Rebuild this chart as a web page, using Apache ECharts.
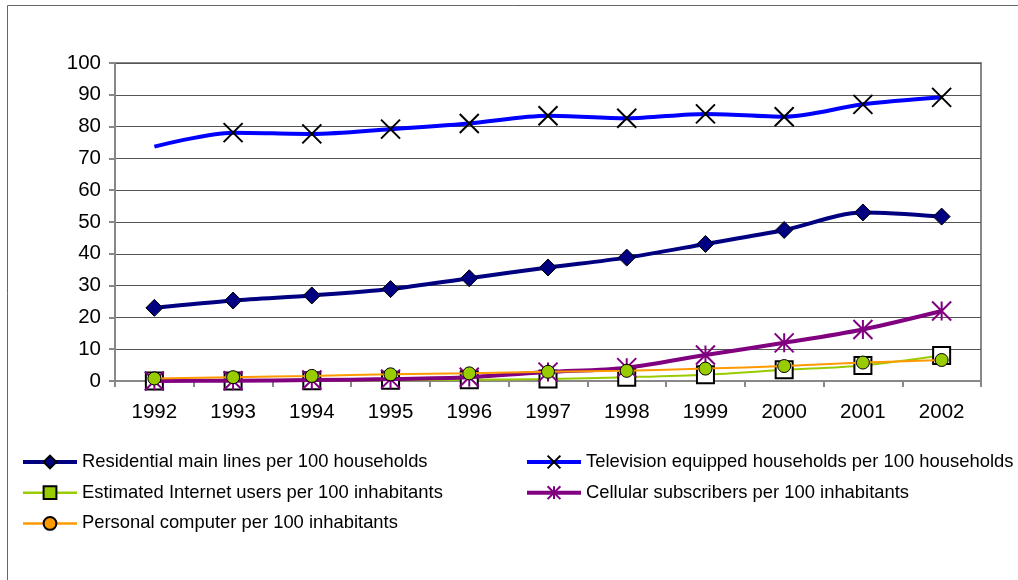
<!DOCTYPE html>
<html>
<head>
<meta charset="utf-8">
<script src="https://cdn.jsdelivr.net/npm/echarts@6/dist/echarts.min.js"></script>
<style>
html,body{margin:0;padding:0;background:#fff;}
#chart{width:1018px;height:580px;}
</style>
</head>
<body>
<div id="chart"></div>
<script>
const years = ['1992','1993','1994','1995','1996','1997','1998','1999','2000','2001','2002'];
const residential = [23.0, 25.3, 26.9, 28.9, 32.3, 35.7, 38.8, 43.1, 47.5, 53.0, 51.7];
const television = [73.7, 78.1, 77.7, 79.2, 81.0, 83.4, 82.6, 84.0, 83.1, 87.0, 89.2];
const internet = [0.0, 0.0, 0.1, 0.2, 0.4, 0.6, 1.2, 2.0, 3.5, 4.9, 8.0];
const cellular = [0.0, 0.1, 0.3, 0.6, 1.2, 2.8, 4.2, 8.2, 12.0, 16.2, 22.0];
const pc = [0.8, 1.2, 1.6, 2.1, 2.4, 2.9, 3.2, 3.9, 4.7, 5.8, 6.6];
const yTicks = {min: 0, max: 100, interval: 10};

const names = {
  res: 'Residential main lines per 100 households',
  tv: 'Television equipped households per 100 households',
  inet: 'Estimated Internet users per 100 inhabitants',
  cell: 'Cellular subscribers per 100 inhabitants',
  pc: 'Personal computer per 100 inhabitants'
};

const X_PATH = 'path://M0,0L10,10M10,0L0,10';
const STAR_PATH = 'path://M0,0L10,10M10,0L0,10M5,0L5,10';
const font = 'Liberation Sans, Arial, sans-serif';

const chart = echarts.init(document.getElementById('chart'), null, {renderer: 'canvas'});
const smooth = 0.3;

const legendText = {fontFamily: font, fontSize: 18.4, color: '#000', lineHeight: 20};

const option = {
  animation: false,
  backgroundColor: '#fff',
  graphic: [{
    type: 'rect', silent: true, z: -10,
    shape: {x: 7.5, y: 5.5, width: 1030, height: 600},
    style: {fill: 'none', stroke: '#666', lineWidth: 1}
  }],
  grid: {left: 115, right: 37, top: 63, bottom: 199, show: true, borderColor: '#888', borderWidth: 2, backgroundColor: 'transparent'},
  xAxis: {
    type: 'category', data: years, boundaryGap: true,
    axisLine: {lineStyle: {color: '#888', width: 2}},
    axisTick: {show: true, alignWithLabel: false, length: 6, lineStyle: {color: '#888', width: 2}},
    axisLabel: {color: '#000', fontFamily: font, fontSize: 20.5, margin: 21},
    splitLine: {show: false}
  },
  yAxis: {
    type: 'value', min: yTicks.min, max: yTicks.max, interval: yTicks.interval,
    axisLine: {show: true, lineStyle: {color: '#888', width: 2}},
    axisTick: {show: true, length: 6, lineStyle: {color: '#888', width: 2}},
    axisLabel: {color: '#000', fontFamily: font, fontSize: 20.5, margin: 14},
    splitLine: {show: true, lineStyle: {color: '#555', width: 1}}
  },
  legend: [{
    orient: 'vertical', left: 21, top: 452, padding: 0, itemWidth: 54, itemHeight: 16, itemGap: 10.7,
    textStyle: legendText,
    data: [
      {name: names.res, lineStyle: {width: 4}},
      {name: names.inet, lineStyle: {width: 2.5}, itemStyle: {color: '#99CC00', borderColor: '#000', borderWidth: 2}},
      {name: names.pc, lineStyle: {width: 2.5}, itemStyle: {color: '#FF9900', borderColor: '#000', borderWidth: 2}}
    ]
  }, {
    orient: 'vertical', left: 525, top: 452, padding: 0, itemWidth: 54, itemHeight: 16, itemGap: 10.7,
    textStyle: legendText,
    data: [
      {name: names.tv, lineStyle: {width: 4}},
      {name: names.cell, lineStyle: {width: 4}}
    ]
  }],
  series: [
    {
      name: names.res, type: 'line', data: residential, smooth: smooth,
      symbol: 'diamond', symbolSize: 17,
      lineStyle: {color: '#000080', width: 4},
      itemStyle: {color: '#000080', borderColor: '#000', borderWidth: 1},
      emphasis: {disabled: true}, z: 2
    },
    {
      name: names.tv, type: 'line',
      data: television.map((v, i) => i === 0 ? {value: v, symbol: 'none'} : v),
      smooth: smooth,
      symbol: X_PATH, symbolSize: 19, symbolKeepAspect: true,
      lineStyle: {color: '#0000FF', width: 4},
      itemStyle: {color: 'none', borderColor: '#000', borderWidth: 2},
      emphasis: {disabled: true}, z: 2
    },
    {
      name: names.inet, type: 'line', data: internet, smooth: smooth,
      symbol: 'rect', symbolSize: 17,
      lineStyle: {color: '#99CC00', width: 2},
      itemStyle: {color: '#fff', borderColor: '#000', borderWidth: 2},
      emphasis: {disabled: true}, z: 3
    },
    {
      name: names.cell, type: 'line', data: cellular, smooth: smooth,
      symbol: STAR_PATH, symbolSize: 19, symbolKeepAspect: true,
      lineStyle: {color: '#800080', width: 4},
      itemStyle: {color: 'none', borderColor: '#800080', borderWidth: 2},
      emphasis: {disabled: true}, z: 4
    },
    {
      name: names.pc, type: 'line', data: pc, smooth: smooth,
      symbol: 'circle', symbolSize: 13,
      lineStyle: {color: '#FF9900', width: 2},
      itemStyle: {color: '#99CC00', borderColor: '#000', borderWidth: 1},
      emphasis: {disabled: true}, z: 5
    }
  ]
};
chart.setOption(option);
</script>
</body>
</html>
